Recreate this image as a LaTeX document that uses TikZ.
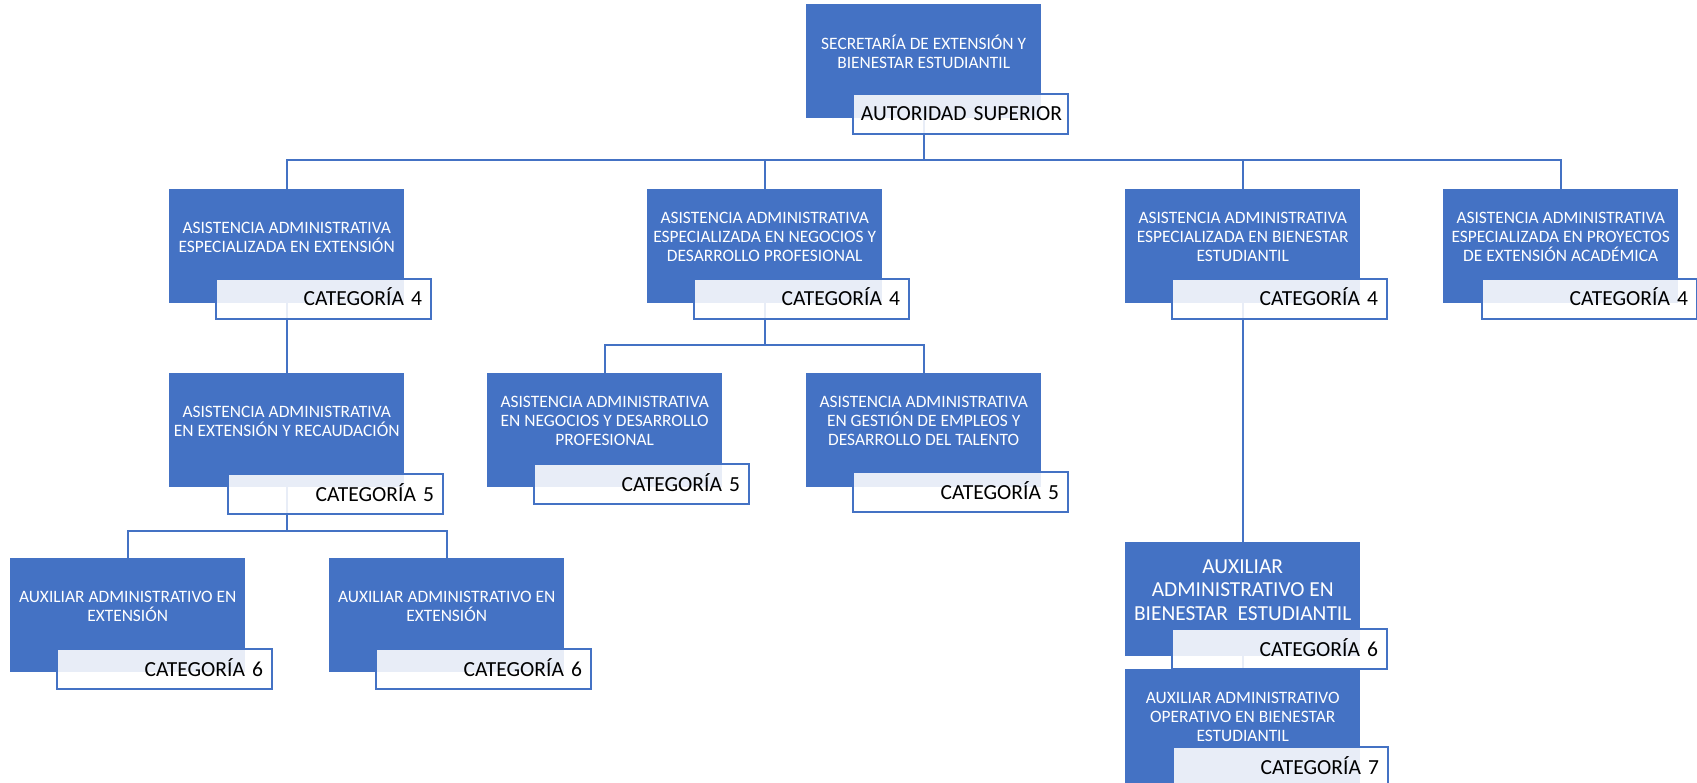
\documentclass[tikz,border=0pt]{standalone}
\usepackage{fontspec}
\setmainfont{Carlito}
\usetikzlibrary{positioning}

\definecolor{orgblue}{RGB}{68,114,196}

\pgfdeclarelayer{bg}
\pgfsetlayers{bg,main}

\tikzset{
  bluebox/.style={rectangle, fill=orgblue, draw=none, anchor=north west,
    minimum width=235pt, minimum height=114pt, inner sep=0pt},
  boxtext/.style={text=white, align=center, inner sep=0pt,
    font=\fontsize{17.4}{19}\selectfont},
  bigtext/.style={font=\fontsize{21.4}{23.7}\selectfont},
  catbox/.style={rectangle, draw=orgblue, line width=2pt, fill=white,
    fill opacity=0.88, text opacity=1, anchor=north west,
    minimum height=40pt, text width=197pt, inner xsep=9pt, inner ysep=0pt,
    align=right, text height=14pt, text depth=0pt, text=black,
    font=\fontsize{21.5}{24}\selectfont},
  widecat/.style={text width=203pt, inner xsep=6pt},
  conn/.style={draw=orgblue, line width=2pt},
}

% #1 name, #2/#3 top-left of the blue box, #4 extra text style,
% #5 title, #6/#7 top-left of the category tab, #8 category
\newcommand\orgunit[8]{%
  \node[bluebox] (#1) at (#2,#3) {};
  \node[boxtext,#4] (#1txt) at ([yshift=-48pt]#1.north) {#5};
  \node[catbox] (#1cat) at (#6,#7) {#8};
}

\begin{document}
\begin{tikzpicture}[x=1pt, y=-1pt]
  \useasboundingbox (0,0) rectangle (1697,783);

  % top
  \node[bluebox] (T) at (806,4) {};
  \node[boxtext] (Ttxt) at ([yshift=-48pt]T.north) {SECRETARÍA DE EXTENSIÓN Y\\BIENESTAR ESTUDIANTIL};
  \node[catbox,widecat] (Tcat) at (852,93) {AUTORIDAD SUPERIOR};

  % second level
  \orgunit{A}{169}{189}{}{ASISTENCIA ADMINISTRATIVA\\ESPECIALIZADA EN EXTENSIÓN}{215}{278}{CATEGORÍA 4}
  \orgunit{B}{647}{189}{}{ASISTENCIA ADMINISTRATIVA\\ESPECIALIZADA EN NEGOCIOS Y\\DESARROLLO PROFESIONAL}{693}{278}{CATEGORÍA 4}
  \orgunit{C}{1125}{189}{}{ASISTENCIA ADMINISTRATIVA\\ESPECIALIZADA EN BIENESTAR\\ESTUDIANTIL}{1171}{278}{CATEGORÍA 4}
  \orgunit{D}{1443}{189}{}{ASISTENCIA ADMINISTRATIVA\\ESPECIALIZADA EN PROYECTOS\\DE EXTENSIÓN ACADÉMICA}{1481}{278}{CATEGORÍA 4}

  % third level
  \orgunit{E}{169}{373}{}{ASISTENCIA ADMINISTRATIVA\\EN EXTENSIÓN Y RECAUDACIÓN}{227}{473}{CATEGORÍA 5}
  \orgunit{F}{487}{373}{}{ASISTENCIA ADMINISTRATIVA\\EN NEGOCIOS Y DESARROLLO\\PROFESIONAL}{533}{463}{CATEGORÍA 5}
  \orgunit{G}{806}{373}{}{ASISTENCIA ADMINISTRATIVA\\EN GESTIÓN DE EMPLEOS Y\\DESARROLLO DEL TALENTO}{852}{471}{CATEGORÍA 5}

  % fourth level
  \orgunit{H}{10}{558}{}{AUXILIAR ADMINISTRATIVO EN\\EXTENSIÓN}{56}{648}{CATEGORÍA 6}
  \orgunit{I}{329}{558}{}{AUXILIAR ADMINISTRATIVO EN\\EXTENSIÓN}{375}{648}{CATEGORÍA 6}
  \orgunit{J}{1125}{542}{bigtext}{AUXILIAR\\ADMINISTRATIVO EN\\BIENESTAR\ \ ESTUDIANTIL}{1171}{628}{CATEGORÍA 6}
  \orgunit{K}{1125}{669}{}{AUXILIAR ADMINISTRATIVO\\OPERATIVO EN BIENESTAR\\ESTUDIANTIL}{1172}{746}{CATEGORÍA 7}

  \begin{pgfonlayer}{bg}
    \fill[white] (0,0) rectangle (1697,783);
    \coordinate (bus1) at (0,160);
    \coordinate (bus2) at (0,345);
    \coordinate (bus3) at (0,531);
    % top to second level
    \draw[conn] (T.south) -- (T.south |- bus1) -| (A.north);
    \draw[conn] (T.south |- bus1) -| (B.north);
    \draw[conn] (T.south |- bus1) -| (C.north);
    \draw[conn] (T.south |- bus1) -| (D.north);
    % second to third level
    \draw[conn] (A.south) -- (E.north);
    \draw[conn] (B.south) -- (B.south |- bus2) -| (F.north);
    \draw[conn] (B.south |- bus2) -| (G.north);
    \draw[conn] (C.south) -- (J.north);
    % third to fourth level
    \draw[conn] (E.south) -- (E.south |- bus3) -| (H.north);
    \draw[conn] (E.south |- bus3) -| (I.north);
    \draw[conn] (J.south) -- (K.north);
  \end{pgfonlayer}
\end{tikzpicture}
\end{document}
